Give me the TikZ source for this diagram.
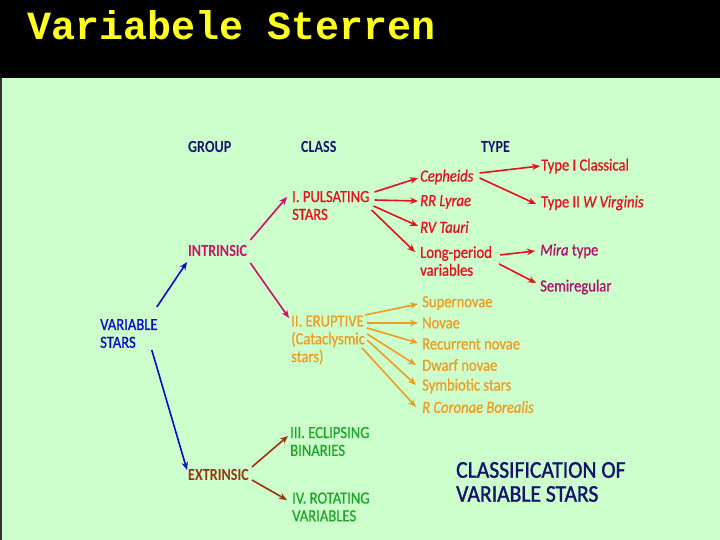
\documentclass[tikz,border=0pt]{standalone}
\usepackage{fontspec}
\setmainfont{Carlito}[FakeStretch=0.86,FakeBold=0.7]
\newfontfamily\boldcond{Carlito}[FakeStretch=0.83]
\newfontfamily\capfont{Carlito}[FakeStretch=0.9,FakeBold=1.4]
\newfontfamily\titlefont{Liberation Mono}
\usetikzlibrary{arrows.meta,calc}
\definecolor{bg}{HTML}{CCFFCC}
\definecolor{navy}{HTML}{14146E}
\definecolor{vblue}{HTML}{0A0ACC}
\definecolor{magen}{HTML}{CC1166}
\definecolor{vred}{HTML}{E8101E}
\definecolor{purp}{HTML}{B0106A}
\definecolor{vorange}{HTML}{F29B22}
\definecolor{brown}{HTML}{993311}
\definecolor{vgreen}{HTML}{20A52A}
\definecolor{ttl}{HTML}{FFFF22}
\tikzset{
  lbl/.style={anchor=west,inner sep=0pt,align=left,font=\fontsize{17}{17.8}\selectfont},
  blbl/.style={anchor=west,inner sep=0pt,align=left,font=\boldcond\bfseries\fontsize{17}{17.8}\selectfont},
  arr/.style={line width=1.6pt,-{Stealth[length=8pt,width=6.5pt]}},
}
\begin{document}
\begin{tikzpicture}[x=1pt,y=-1pt]
\useasboundingbox (0,0) rectangle (720,540);
\fill[black] (0,0) rectangle (720,78);
\fill[bg] (0,78) rectangle (720,540);
\fill[black!80] (0,78) rectangle (1.5,540);
\node[anchor=base west,inner sep=0pt,text=ttl,font=\titlefont\bfseries\fontsize{40}{40}\selectfont] (title) at (27,40) {Variabele Sterren};
% headers
\node[blbl,text=navy] (group) at (188,147) {GROUP};
\node[blbl,text=navy] (class) at (301,147) {CLASS};
\node[blbl,text=navy] (type) at (481,147) {TYPE};
% group level
\node[lbl,text=vblue] (var) at (100,333.5) {VARIABLE\\STARS};
\node[blbl,text=magen] (intr) at (188,251) {INTRINSIC};
\node[blbl,text=brown] (extr) at (188,475) {EXTRINSIC};
% class level
\node[lbl,text=vred] (pul) at (292,205.5) {I. PULSATING\\STARS};
\node[lbl,text=vorange] (erup) at (291,340) {II. ERUPTIVE\\(Cataclysmic\\stars)};
\node[lbl,text=vgreen] (ecl) at (290,441.5) {III. ECLIPSING\\BINARIES};
\node[lbl,text=vgreen] (rot) at (292,507) {IV. ROTATING\\VARIABLES};
% pulsating types
\node[lbl,text=vred] (ceph) at (420,177) {\itshape Cepheids};
\node[lbl,text=vred] (rr) at (420,202) {\itshape RR Lyrae};
\node[lbl,text=vred] (rv) at (420,227) {\itshape RV Tauri};
\node[lbl,text=vred] (lpv) at (420,261) {Long-period\\variables};
\node[lbl,text=vred] (t1) at (541,166) {Type I Classical};
\node[lbl,text=vred] (t2) at (541,203) {Type II \textit{W Virginis}};
\node[lbl,text=purp] (mira) at (540,251) {\textit{Mira} type};
\node[lbl,text=purp] (semi) at (540,287) {Semiregular};
% eruptive types
\node[lbl,text=vorange] (sn) at (422,303) {Supernovae};
\node[lbl,text=vorange] (nov) at (422,323) {Novae};
\node[lbl,text=vorange] (rec) at (422,344) {Recurrent novae};
\node[lbl,text=vorange] (dw) at (422,365) {Dwarf novae};
\node[lbl,text=vorange] (sym) at (422,386) {Symbiotic stars};
\node[lbl,text=vorange] (rcb) at (422,407) {\itshape R Coronae Borealis};
% caption
\node[anchor=west,inner sep=0pt,align=left,text=navy,font=\capfont\fontsize{24}{24}\selectfont] (cls) at (456,482) {CLASSIFICATION OF\\VARIABLE STARS};
% connectors
\draw[arr,vblue] ($(var.east)+(-1,-26.5)$) -- ($(intr.west)+(-1,11)$);
\draw[arr,vblue] ($(var.east)+(-6,16.5)$) -- ($(extr.west)+(-1,-5)$);
\draw[arr,magen] ($(intr.east)+(3,-11)$) -- ($(pul.west)+(-5,-8.5)$);
\draw[arr,magen] ($(intr.east)+(3,12)$) -- ($(erup.west)+(-2,-22)$);
\draw[arr,brown] ($(extr.east)+(3,-8)$) -- ($(ecl.west)+(-2,-5.5)$);
\draw[arr,brown] ($(extr.east)+(3,5)$) -- ($(rot.west)+(-5,-7)$);
\draw[arr,vred] ($(pul.east)+(5,-13.5)$) -- ($(ceph.west)+(-2,1)$);
\draw[arr,vred] ($(pul.east)+(5,-5.5)$) -- ($(rr.west)+(-2,-1)$);
\draw[arr,vred] ($(pul.east)+(4,0.5)$) -- ($(rv.west)+(-2,-1)$);
\draw[arr,vred] ($(pul.east)+(2,4.5)$) -- ($(lpv.west)+(-5,-9)$);
\draw[arr,vred] ($(ceph.east)+(6,-4)$) -- ($(t1.west)+(-1,0)$);
\draw[arr,vred] ($(ceph.east)+(6,1)$) -- ($(t2.west)+(-5,1)$);
\draw[arr,vred] ($(lpv.north east)+(8,9)$) -- ($(mira.west)+(-5,0)$);
\draw[arr,vred] ($(lpv.north east)+(7,18)$) -- ($(semi.west)+(-4,-4)$);
\draw[arr,vorange] ($(erup.east)+(0,-25)$) -- ($(sn.west)+(-4,1)$);
\draw[arr,vorange] ($(erup.east)+(2,-17)$) -- ($(nov.west)+(-4,0)$);
\draw[arr,vorange] ($(erup.east)+(2,-12)$) -- ($(rec.west)+(-4,-1)$);
\draw[arr,vorange] ($(erup.east)+(2,-6)$) -- ($(dw.west)+(-6,0)$);
\draw[arr,vorange] ($(erup.east)+(2,0)$) -- ($(sym.west)+(-6,-1)$);
\draw[arr,vorange] ($(erup.east)+(-3,8)$) -- ($(rcb.west)+(-6,0)$);
\end{tikzpicture}
\end{document}
